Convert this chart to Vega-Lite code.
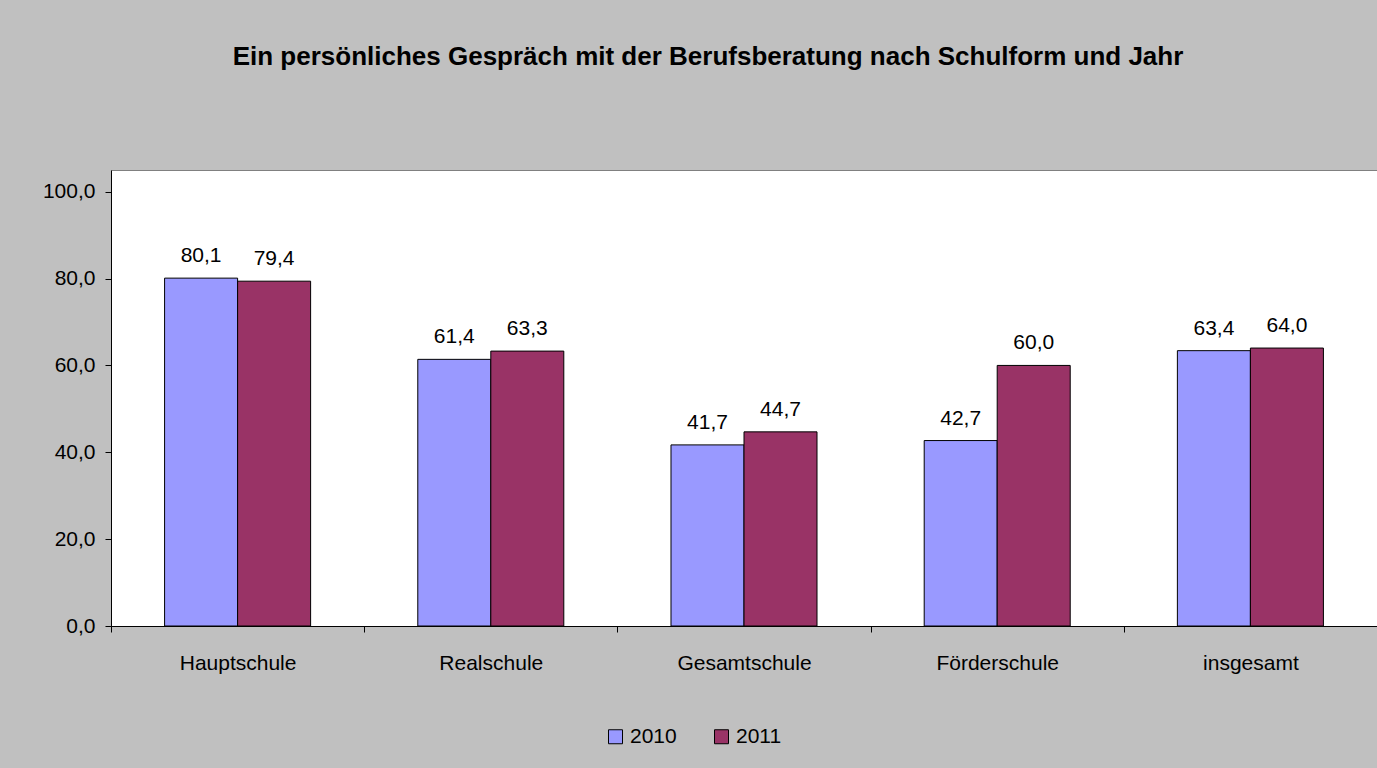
{
  "$schema": "https://vega.github.io/schema/vega-lite/v6.json",
  "width": 1266,
  "height": 456,
  "autosize": {"type": "none"},
  "padding": {"left": 111, "top": 170, "right": 0, "bottom": 142},
  "background": "#c0c0c0",
  "config": {
    "view": {"fill": "white", "stroke": "#808080", "strokeWidth": 1},
    "font": "Liberation Sans"
  },
  "title": {
    "text": "Ein persönliches Gespräch mit der Berufsberatung nach Schulform und Jahr",
    "font": "Liberation Sans",
    "fontSize": 26,
    "fontWeight": "bold",
    "color": "black",
    "anchor": "middle",
    "baseline": "alphabetic",
    "offset": 79,
    "dx": -36
  },
  "data": {
    "values": [
      {"Schulform": "Hauptschule", "Jahr": "2010", "Wert": 80.1},
      {"Schulform": "Hauptschule", "Jahr": "2011", "Wert": 79.4},
      {"Schulform": "Realschule", "Jahr": "2010", "Wert": 61.4},
      {"Schulform": "Realschule", "Jahr": "2011", "Wert": 63.3},
      {"Schulform": "Gesamtschule", "Jahr": "2010", "Wert": 41.7},
      {"Schulform": "Gesamtschule", "Jahr": "2011", "Wert": 44.7},
      {"Schulform": "Förderschule", "Jahr": "2010", "Wert": 42.7},
      {"Schulform": "Förderschule", "Jahr": "2011", "Wert": 60.0},
      {"Schulform": "insgesamt", "Jahr": "2010", "Wert": 63.4},
      {"Schulform": "insgesamt", "Jahr": "2011", "Wert": 64.0}
    ]
  },
  "encoding": {
    "x": {
      "field": "Schulform",
      "type": "nominal",
      "sort": ["Hauptschule", "Realschule", "Gesamtschule", "Förderschule", "insgesamt"],
      "scale": {"paddingInner": 0, "paddingOuter": 0},
      "axis": {
        "title": null,
        "labelAngle": 0,
        "labelFontSize": 21,
        "labelColor": "black",
        "labelPadding": 20,
        "tickBand": "extent",
        "tickSize": 6,
        "tickColor": "black",
        "domainColor": "black",
        "grid": false
      }
    },
    "xOffset": {
      "field": "Jahr",
      "type": "nominal",
      "scale": {"paddingInner": 0, "paddingOuter": 0.734}
    },
    "y": {
      "field": "Wert",
      "type": "quantitative",
      "scale": {"domain": [0, 105], "nice": false, "zero": true},
      "axis": {
        "title": null,
        "values": [0, 20, 40, 60, 80, 100],
        "labelExpr": "replace(format(datum.value, '.1f'), '.', ',')",
        "labelFontSize": 21,
        "labelColor": "black",
        "labelPadding": 10,
        "tickSize": 6,
        "tickColor": "black",
        "domainColor": "black",
        "grid": false
      }
    }
  },
  "layer": [
    {
      "mark": {"type": "bar", "stroke": "black", "strokeWidth": 1},
      "encoding": {
        "color": {
          "field": "Jahr",
          "type": "nominal",
          "scale": {"domain": ["2010", "2011"], "range": ["#9999ff", "#993366"]},
          "legend": {
            "title": null,
            "orient": "none",
            "direction": "horizontal",
            "legendX": 494,
            "legendY": 556,
            "padding": 0,
            "symbolType": "square",
            "symbolSize": 196,
            "symbolStrokeColor": "black",
            "symbolStrokeWidth": 1,
            "labelFontSize": 21,
            "labelColor": "black",
            "labelOffset": 4,
            "columnPadding": 34
          }
        }
      }
    },
    {
      "mark": {
        "type": "text",
        "baseline": "alphabetic",
        "dy": -16,
        "fontSize": 21,
        "color": "black",
        "text": {"expr": "replace(format(datum.Wert, '.1f'), '.', ',')"}
      }
    }
  ]
}
